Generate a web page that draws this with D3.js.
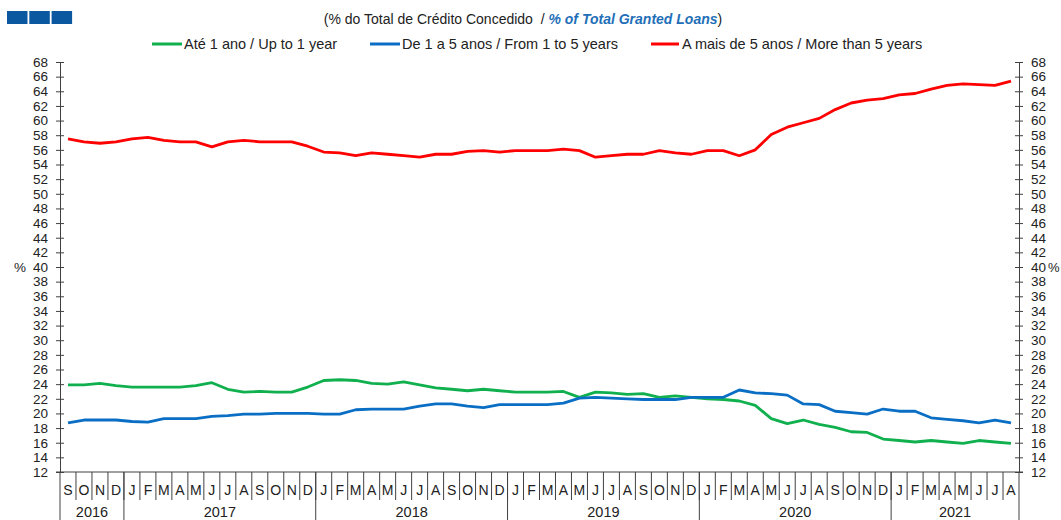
<!DOCTYPE html>
<html>
<head>
<meta charset="utf-8">
<script src="https://cdn.jsdelivr.net/npm/d3@7"></script>
<style>
  html, body { margin: 0; padding: 0; background: #fff; }
  svg { display: block; font-family: "Liberation Sans", Arial, sans-serif; }
</style>
</head>
<body>
<div id="chart"></div>
<script>
// Sep 2016 .. Aug 2021, one point per month
const monthLetters = ["S","O","N","D",
  "J","F","M","A","M","J","J","A","S","O","N","D",
  "J","F","M","A","M","J","J","A","S","O","N","D",
  "J","F","M","A","M","J","J","A","S","O","N","D",
  "J","F","M","A","M","J","J","A","S","O","N","D",
  "J","F","M","A","M","J","J","A"];
const years = [
  { label: "2016", start: 0, end: 4 },
  { label: "2017", start: 4, end: 16 },
  { label: "2018", start: 16, end: 28 },
  { label: "2019", start: 28, end: 40 },
  { label: "2020", start: 40, end: 52 },
  { label: "2021", start: 52, end: 60 }
];
const yTicks = d3.range(12, 69, 2);

const upTo1 = [23.9,23.9,24.1,23.8,23.6,23.6,23.6,23.6,23.8,24.2,23.3,22.9,
  23.0,22.9,22.9,23.6,24.5,24.6,24.5,24.1,24.0,24.3,23.9,23.5,
  23.3,23.1,23.3,23.1,22.9,22.9,22.9,23.0,22.2,22.9,22.8,22.6,
  22.7,22.2,22.4,22.2,22.0,21.9,21.7,21.1,19.3,18.6,19.1,18.5,
  18.1,17.5,17.4,16.5,16.3,16.1,16.3,16.1,15.9,16.3,16.1,15.9];
const from1to5 = [18.7,19.1,19.1,19.1,18.9,18.8,19.3,19.3,19.3,19.6,19.7,19.9,
  19.9,20.0,20.0,20.0,19.9,19.9,20.5,20.6,20.6,20.6,21.0,21.3,
  21.3,21.0,20.8,21.2,21.2,21.2,21.2,21.4,22.1,22.2,22.1,22.0,
  21.9,21.9,21.9,22.2,22.2,22.2,23.2,22.8,22.7,22.5,21.3,21.2,
  20.3,20.1,19.9,20.6,20.3,20.3,19.4,19.2,19.0,18.7,19.1,18.7];
const over5 = [57.5,57.1,56.9,57.1,57.5,57.7,57.3,57.1,57.1,56.4,57.1,57.3,
  57.1,57.1,57.1,56.5,55.7,55.6,55.2,55.6,55.4,55.2,55.0,55.4,
  55.4,55.8,55.9,55.7,55.9,55.9,55.9,56.1,55.9,55.0,55.2,55.4,
  55.4,55.9,55.6,55.4,55.9,55.9,55.2,56.0,58.1,59.1,59.7,60.3,
  61.5,62.4,62.8,63.0,63.5,63.7,64.3,64.8,65.0,64.9,64.8,65.4];

const series = [
  { name: "Até 1 ano / Up to 1 year", values: upTo1, color: "#11b04f" },
  { name: "De 1 a 5 anos / From 1 to 5 years", values: from1to5, color: "#0a6fc4" },
  { name: "A mais de 5 anos / More than 5 years", values: over5, color: "#ff0000" }
];

const W = 1061, H = 520;
const plotL = 60, plotR = 1019, plotT = 62, plotB = 472;
const axisColor = "#404040", textColor = "#222";

const svg = d3.select("#chart").append("svg")
  .attr("width", W).attr("height", H);

const x = d3.scaleBand().domain(d3.range(monthLetters.length)).range([plotL, plotR]);
const y = d3.scaleLinear().domain([12, 68]).range([plotB, plotT]);

// header squares
svg.append("g").selectAll("rect").data([0, 1, 2]).join("rect")
  .attr("x", d => 7 + d * 22.3).attr("y", 11)
  .attr("width", 20.5).attr("height", 13)
  .attr("fill", "#0b57a0");

// title
const title = svg.append("text")
  .attr("x", 523).attr("y", 24)
  .attr("text-anchor", "middle")
  .attr("font-size", 14).attr("fill", textColor)
  .attr("xml:space", "preserve");
title.append("tspan").text("(% do Total de Crédito Concedido  / ");
title.append("tspan").text("% of Total Granted Loans")
  .attr("font-weight", "bold").attr("font-style", "italic").attr("fill", "#1f6fb8");
title.append("tspan").text(")");

// legend
const legendX = [152, 370, 651];
const legend = svg.append("g").selectAll("g").data(series).join("g")
  .attr("transform", (d, i) => `translate(${legendX[i]},44)`);
legend.append("line")
  .attr("x1", 0).attr("x2", (d, i) => i === 2 ? 28 : 30)
  .attr("stroke", d => d.color).attr("stroke-width", 3);
legend.append("text")
  .attr("x", (d, i) => i === 2 ? 31 : 32).attr("y", 5)
  .attr("font-size", 14.5).attr("fill", textColor)
  .text(d => d.name);

// y axes
function styleAxis(g) {
  g.select(".domain").attr("stroke", axisColor);
  g.selectAll(".tick line").attr("stroke", axisColor).attr("x1", -4).attr("x2", 4);
  g.selectAll(".tick text").attr("fill", textColor).attr("font-size", 13.5);
}
svg.append("g").attr("transform", `translate(${plotL},0)`)
  .call(d3.axisLeft(y).tickValues(yTicks).tickSize(0).tickPadding(12).tickSizeOuter(0))
  .call(styleAxis);
svg.append("g").attr("transform", `translate(${plotR},0)`)
  .call(d3.axisRight(y).tickValues(yTicks).tickSize(0).tickPadding(12).tickSizeOuter(0))
  .call(styleAxis);

svg.append("text").attr("x", 14).attr("y", y(40) + 5)
  .attr("font-size", 13.5).attr("fill", textColor).text("%");
svg.append("text").attr("x", 1048).attr("y", y(40) + 5)
  .attr("font-size", 13).attr("fill", textColor).text("%");

// category axis
const xAxis = svg.append("g");
xAxis.append("line")
  .attr("x1", plotL - 4).attr("x2", plotR + 4)
  .attr("y1", plotB).attr("y2", plotB)
  .attr("stroke", axisColor);
xAxis.selectAll("line.month").data(d3.range(1, monthLetters.length)).join("line")
  .attr("class", "month")
  .attr("x1", d => x(d)).attr("x2", d => x(d))
  .attr("y1", plotB).attr("y2", 500)
  .attr("stroke", axisColor);
xAxis.selectAll("line.year").data(years.map(d => d.start).concat([monthLetters.length])).join("line")
  .attr("class", "year")
  .attr("x1", d => d < monthLetters.length ? x(d) : plotR)
  .attr("x2", d => d < monthLetters.length ? x(d) : plotR)
  .attr("y1", plotB).attr("y2", H)
  .attr("stroke", axisColor);
xAxis.selectAll("text.month").data(monthLetters).join("text")
  .attr("class", "month")
  .attr("x", (d, i) => x(i) + x.bandwidth() / 2).attr("y", 495)
  .attr("text-anchor", "middle").attr("font-size", 14).attr("fill", textColor)
  .text(d => d);
xAxis.selectAll("text.year").data(years).join("text")
  .attr("class", "year")
  .attr("x", d => (x(d.start) + (d.end < monthLetters.length ? x(d.end) : plotR)) / 2)
  .attr("y", 517)
  .attr("text-anchor", "middle").attr("font-size", 14.5).attr("fill", textColor)
  .text(d => d.label);

// lines
const line = d3.line()
  .x((d, i) => x(i) + x.bandwidth() / 2)
  .y(d => y(d));
svg.append("g").selectAll("path").data(series).join("path")
  .attr("d", d => line(d.values))
  .attr("fill", "none")
  .attr("stroke", d => d.color)
  .attr("stroke-width", 2.8)
  .attr("stroke-linejoin", "round");
</script>
</body>
</html>
